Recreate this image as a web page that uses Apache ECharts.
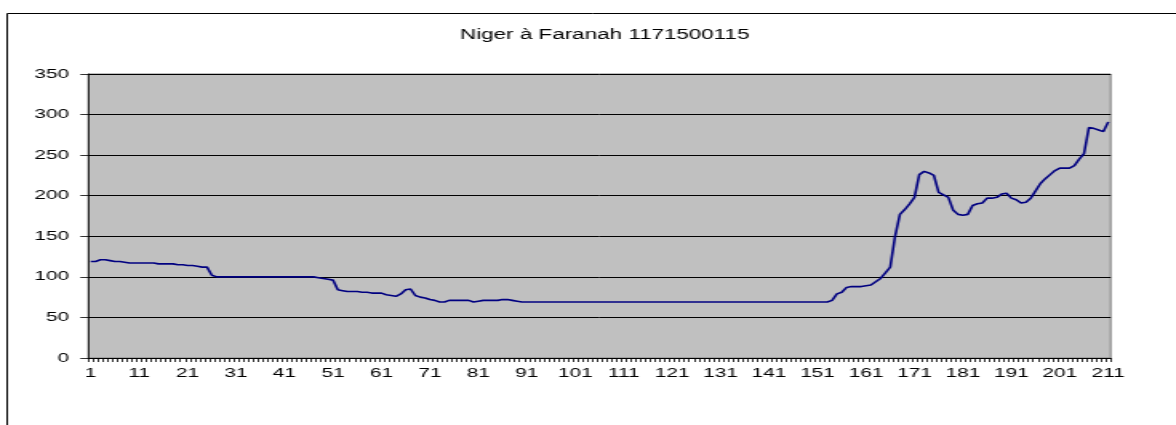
<!DOCTYPE html>
<html>
<head>
<meta charset="utf-8">
<script src="https://cdn.jsdelivr.net/npm/echarts@6/dist/echarts.min.js"></script>
<style>
  html, body { margin: 0; padding: 0; background: #fff; overflow: hidden; }
  /* le graphique d'origine est étiré en largeur, on fait pareil */
  #chart { width: 735px; height: 425px; transform: scaleX(1.6); transform-origin: 0 0; }
</style>
</head>
<body>
<div id="chart"></div>
<script>
var titre = 'Niger à Faranah 1171500115';

// jours 1..211
var jours = [];
for (var i = 1; i <= 211; i++) jours.push(String(i));

// débits, par tranche
var debits1 = [119, 119, 121, 121, 120, 119, 119, 118, 117, 117,
  117, 117, 117, 117, 116, 116, 116, 116, 115, 115,
  114, 114, 113, 112, 112, 102, 100];
var debits2 = [100, 100, 100, 100, 100, 100, 100, 100, 100, 100,
  100, 100, 100, 100, 100, 100, 100, 100, 100, 100];
var debits3 = [99, 98, 97, 96, 84, 83, 82, 82, 82, 81,
  81, 80, 80, 80, 78, 77, 76, 79, 84, 85,
  77, 75, 74, 72, 71, 69, 69, 71, 71, 71,
  71, 71, 69, 70, 71, 71, 71, 71, 72, 72,
  71, 70, 69];
var debits4 = [69, 69, 69, 69, 69, 69, 69, 69, 69, 69,
  69, 69, 69, 69, 69, 69, 69, 69, 69, 69,
  69, 69, 69, 69, 69, 69, 69, 69, 69, 69,
  69, 69, 69, 69, 69, 69, 69, 69, 69, 69,
  69, 69, 69, 69, 69, 69, 69, 69, 69, 69,
  69, 69, 69, 69, 69, 69, 69, 69, 69, 69,
  69, 69, 69];
var debits5 = [71, 79, 81, 87, 88, 88, 88, 89, 90, 94,
  98, 105, 112, 150, 177, 183, 190, 198, 226, 230,
  228, 225, 204, 201, 198, 182, 177, 176, 177, 188,
  190, 191, 197, 197, 198, 202, 203, 197, 195, 191,
  192, 197, 206, 215, 221, 226, 231, 234, 234, 234,
  237, 245, 252, 284, 283, 281, 279, 291];

var debits = debits1.concat(debits2, debits3, debits4, debits5);

var yTicks = [0, 50, 100, 150, 200, 250, 300, 350];

var police = 'Arial, "Liberation Sans", sans-serif';

var myChart = echarts.init(document.getElementById('chart'), null, { renderer: 'canvas' });

myChart.setOption({
  animation: false,
  backgroundColor: '#fff',
  title: {
    text: titre,
    left: 373,
    top: 23,
    textAlign: 'center',
    textStyle: { fontFamily: police, fontSize: 14, fontWeight: 'normal', color: '#000' }
  },
  graphic: [{
    // cadre extérieur
    type: 'rect',
    z: -10,
    shape: { x: 4.5, y: 13.5, width: 900, height: 600 },
    style: { fill: null, stroke: '#000', lineWidth: 1 }
  }],
  grid: {
    left: 55.2,
    right: 40.8,
    top: 74,
    bottom: 67,
    show: true,
    backgroundColor: '#c0c0c0',
    borderColor: '#808080',
    borderWidth: 1
  },
  xAxis: {
    type: 'category',
    data: jours,
    boundaryGap: true,
    axisLine: { lineStyle: { color: '#000', width: 1 } },
    axisTick: { show: true, interval: 0, length: 4, lineStyle: { color: '#000', width: 0.8 } },
    axisLabel: { interval: 9, margin: 9, fontFamily: police, fontSize: 13, color: '#000' },
    splitLine: { show: false }
  },
  yAxis: {
    type: 'value',
    min: yTicks[0],
    max: yTicks[yTicks.length - 1],
    interval: 50,
    axisLine: { show: true, lineStyle: { color: '#000', width: 0.8 } },
    axisTick: { show: true, length: 5, lineStyle: { color: '#000', width: 0.8 } },
    axisLabel: { margin: 12, fontFamily: police, fontSize: 13, color: '#000' },
    splitLine: { show: true, lineStyle: { color: '#000', width: 1 } }
  },
  series: [{
    type: 'line',
    data: debits,
    symbol: 'none',
    lineStyle: { color: '#000080', width: 1.6 },
    itemStyle: { color: '#000080' }
  }]
});
</script>
</body>
</html>
